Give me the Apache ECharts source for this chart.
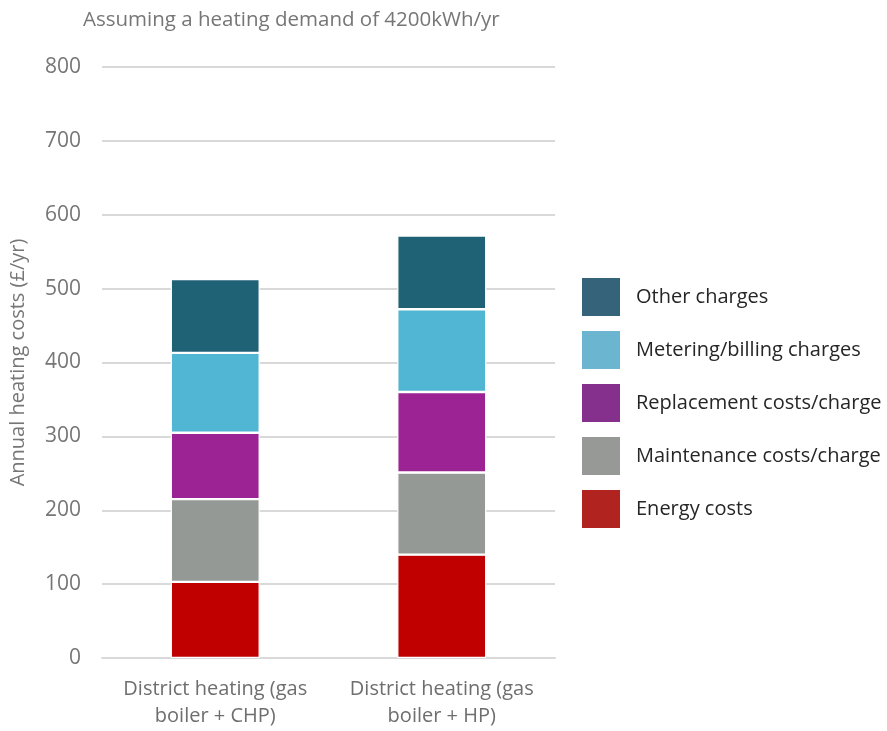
<!DOCTYPE html>
<html><head><meta charset="utf-8">
<script src="https://cdn.jsdelivr.net/npm/echarts@6/dist/echarts.min.js"></script>
<style>html,body{margin:0;padding:0;background:#fff}#c{width:887px;height:731px}</style>
</head><body><div id="c"></div>
<script>
const categories = ['District heating (gas\nboiler + CHP)', 'District heating (gas\nboiler + HP)'];
const seriesNames = ['Energy costs', 'Maintenance costs/charge', 'Replacement costs/charge', 'Metering/billing charges', 'Other charges'];
const energy = [103, 140];
const maintenance = [112, 111];
const replacement = [90, 109];
const metering = [108, 112];
const other = [100, 100];
const yTicks = [0, 100, 200, 300, 400, 500, 600, 700, 800];

const values = [energy, maintenance, replacement, metering, other];
const barColors = ['#C00000', '#959995', '#9B2393', '#50B6D4', '#1F6276'];
const legendColors = ['#B0231E', '#969996', '#85308D', '#6BB5D0', '#35637A'];
const font = '"Open Sans", "Noto Sans", sans-serif';

const chart = echarts.init(document.getElementById('c'));
chart.setOption({
  animation: false,
  textStyle: { fontFamily: font },
  title: {
    text: 'Assuming a heating demand of 4200kWh/yr',
    left: 78, top: 5,
    textStyle: { fontFamily: font, fontSize: 20.5, fontWeight: 'normal', color: '#767676' }
  },
  legend: {
    orient: 'vertical',
    left: 577, top: 273,
    itemWidth: 38, itemHeight: 38, itemGap: 15,
    icon: 'rect',
    textStyle: { fontFamily: font, fontSize: 20, color: '#262626', padding: [0, 0, 0, 11] },
    data: seriesNames.slice().reverse().map(n => ({ name: n, itemStyle: { color: legendColors[seriesNames.indexOf(n)], borderWidth: 0 } }))
  },
  grid: { left: 100, right: 332, top: 67, bottom: 73 },
  xAxis: {
    type: 'category',
    data: categories,
    axisLine: { lineStyle: { color: '#d9d9d9', width: 2 } },
    axisTick: { show: false },
    axisLabel: { interval: 0, fontFamily: font, fontSize: 20, color: '#6e6e6e', lineHeight: 27, margin: 18 }
  },
  yAxis: {
    type: 'value', min: 0, max: 800, interval: 100,
    name: 'Annual heating costs (£/yr)',
    nameLocation: 'middle', nameGap: 74, nameRotate: 90,
    nameTextStyle: { fontFamily: font, fontSize: 20, color: '#767676' },
    axisLine: { show: false }, axisTick: { show: false },
    splitLine: { lineStyle: { color: '#d9d9d9', width: 2 } },
    axisLabel: { fontFamily: font, fontSize: 21, color: '#767676', margin: 21,
      formatter: v => yTicks.includes(v) ? String(v) : '' }
  },
  series: seriesNames.map((n, i) => ({
    name: n, type: 'bar', stack: 'total', barWidth: 89,
    data: values[i],
    itemStyle: { color: barColors[i], borderColor: '#fff', borderWidth: 1.2 }
  }))
});
</script></body></html>
